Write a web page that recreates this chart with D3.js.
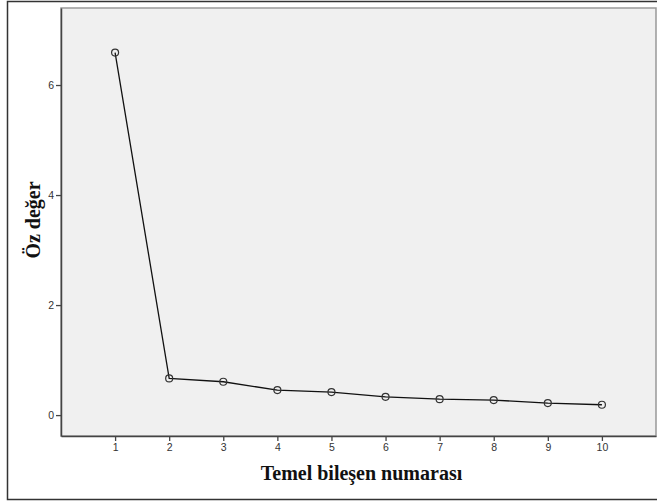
<!DOCTYPE html>
<html>
<head>
<meta charset="utf-8">
<script src="https://cdn.jsdelivr.net/npm/d3@7"></script>
<style>
  body { margin: 0; background: #fff; }
  svg { display: block; }
</style>
</head>
<body>
<div id="chart"></div>
<script>
// scree plot data
const components = [1, 2, 3, 4, 5, 6, 7, 8, 9, 10];
const eigenvalues = [6.59, 0.667, 0.606, 0.455, 0.418, 0.333, 0.29, 0.273, 0.218, 0.188];
const yTicks = [0, 2, 4, 6];
const xLabel = 'Temel bileşen numarası';
const yLabel = 'Öz değer';

const width = 657, height = 502;
const plot = { left: 61, top: 8, right: 656, bottom: 436 };

const svg = d3.select('#chart').append('svg')
    .attr('width', width)
    .attr('height', height);

// outer frame
svg.append('rect')
    .attr('x', 7.5).attr('y', 1.5)
    .attr('width', 660).attr('height', 498)
    .attr('fill', '#fff')
    .attr('stroke', '#333')
    .attr('stroke-width', 1.5);

const x = d3.scaleLinear().domain([0, 11]).range([plot.left, plot.right]);
const y = d3.scaleLinear().domain([-0.38, 7.4]).range([plot.bottom, plot.top]);

// plot background
svg.append('rect')
    .attr('x', plot.left).attr('y', plot.top)
    .attr('width', plot.right - plot.left).attr('height', plot.bottom - plot.top)
    .attr('fill', '#f0f0f0')
    .attr('stroke', '#999')
    .attr('stroke-width', 1.5);

const xAxis = svg.append('g')
    .attr('transform', 'translate(0,' + plot.bottom + ')')
    .call(d3.axisBottom(x).tickValues(components).tickSize(5).tickSizeOuter(0).tickPadding(3));

const yAxis = svg.append('g')
    .attr('transform', 'translate(' + plot.left + ',0)')
    .call(d3.axisLeft(y).tickValues(yTicks).tickSize(5).tickSizeOuter(0).tickPadding(2));

[xAxis, yAxis].forEach(function(a) {
    a.select('.domain').attr('stroke', '#444').attr('stroke-width', 1.5);
    a.selectAll('.tick line').attr('stroke', '#444').attr('stroke-width', 1.3);
    a.selectAll('.tick text')
        .attr('fill', '#333')
        .style('font-family', '"Liberation Sans", Arial, sans-serif')
        .style('font-size', '10.5px');
});

// line
const line = d3.line()
    .x(function(d, i) { return x(components[i]); })
    .y(function(d) { return y(d); });

svg.append('path')
    .datum(eigenvalues)
    .attr('fill', 'none')
    .attr('stroke', '#111')
    .attr('stroke-width', 1.3)
    .attr('d', line);

svg.append('g')
    .selectAll('circle')
    .data(eigenvalues)
    .enter().append('circle')
    .attr('cx', function(d, i) { return x(components[i]); })
    .attr('cy', function(d) { return y(d); })
    .attr('r', 3.5)
    .attr('fill', 'none')
    .attr('stroke', '#333')
    .attr('stroke-width', 1.2);

// axis titles
svg.append('text')
    .attr('x', (plot.left + plot.right) / 2 + 3)
    .attr('y', 480)
    .attr('text-anchor', 'middle')
    .style('font-family', '"Liberation Serif", "Times New Roman", serif')
    .style('font-weight', 'bold')
    .style('font-size', '20px')
    .attr('fill', '#111')
    .text(xLabel);

svg.append('text')
    .attr('transform', 'translate(40,' + ((plot.top + plot.bottom) / 2 - 2) + ') rotate(-90)')
    .attr('text-anchor', 'middle')
    .style('font-family', '"Liberation Serif", "Times New Roman", serif')
    .style('font-weight', 'bold')
    .style('font-size', '20px')
    .attr('fill', '#111')
    .text(yLabel);
</script>
</body>
</html>
